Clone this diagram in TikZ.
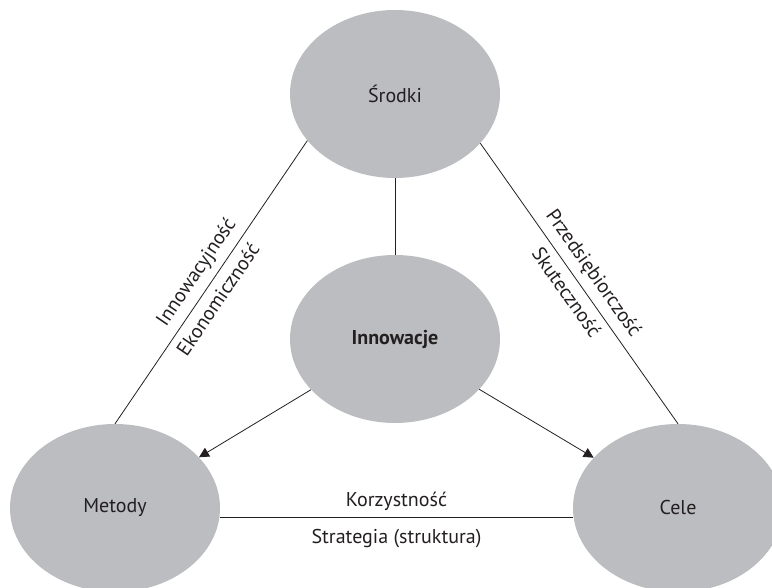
\documentclass[tikz,border=0pt]{standalone}
\usepackage{fontspec}
\setmainfont{PT Sans}
\usetikzlibrary{arrows.meta,shapes.geometric}
\definecolor{elgray}{HTML}{BCBDC0}
\definecolor{ink}{HTML}{231F20}
\begin{document}
\begin{tikzpicture}[>={Triangle[length=10pt,width=10pt]},x=1pt,y=1pt,font=\fontsize{20}{24}\selectfont,text=ink]
\tikzstyle{el}=[ellipse,fill=elgray,minimum width=210pt,minimum height=168pt,inner sep=0pt]
\tikzstyle{ln}=[draw=ink,line width=0.8pt]
\useasboundingbox (0,0) rectangle (772,588);
\node[el] (srodki) at (395,494) {Środki};
\node[el] (innow) at (395,249) {\textbf{Innowacje}};
\node[el] (metody) at (115,80) {Metody};
\node[el] (cele) at (678,80) {Cele};
\draw[ln] (srodki.south) -- (innow.north);
\draw[ln] (metody.north) -- (srodki.208)
  node[pos=0.5,sloped,above=4pt] (innwc) {Innowacyjność}
  node[pos=0.47,sloped,below=4pt] (ekon) {Ekonomiczność};
\draw[ln] (srodki.330) -- (cele.north)
  node[pos=0.5,sloped,above=4pt] (przeds) {Przedsiębiorczość}
  node[pos=0.5,sloped,below=4pt] (skut) {Skuteczność};
\draw[ln] (metody.-5) -- (cele.185)
  node[midway,above=3pt] (korz) {Korzystność}
  node[midway,below=8pt] (strat) {Strategia (struktura)};
\draw[ln,->] (innow) -- (metody);
\draw[ln,->] (innow) -- (cele);
\end{tikzpicture}
\end{document}
